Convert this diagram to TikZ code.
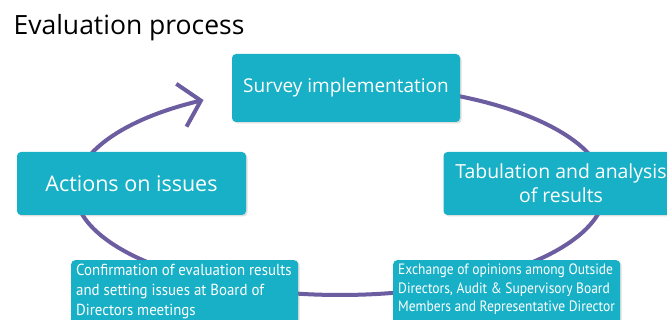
\documentclass[tikz,border=0pt]{standalone}
\usepackage{fontspec}
\setmainfont{Open Sans}
\newfontfamily\narrowfont{PT Sans}[FakeStretch=0.93]
\newfontfamily\narrowerfont{PT Sans}[FakeStretch=0.9]
\usetikzlibrary{arrows.meta,shadows}
\definecolor{boxc}{RGB}{24,176,198}
\definecolor{ringc}{RGB}{108,92,160}
\tikzset{
  box/.style={fill=boxc, rounded corners=4pt, text=white, draw=none, inner sep=0pt,
    drop shadow={opacity=0.25, shadow xshift=1.5pt, shadow yshift=-1.5pt}},
  smallbox/.style={box, anchor=north west, minimum width=227pt, minimum height=75pt},
  smalltext/.style={anchor=north west, align=left, inner sep=0pt, text=white},
  ring/.style={ringc, line width=4pt, line cap=round}
}
\begin{document}
\begin{tikzpicture}[x=1pt,y=1pt]
\useasboundingbox (0,0) rectangle (667,320);
\fill[white] (0,0) rectangle (667,320);
\node[anchor=west, font=\fontsize{26.5}{30}\selectfont] (title) at (10,292) {Evaluation process};
\coordinate (ringstart) at (340,235);
\draw[ring, -{Straight Barb[length=20pt,width=44pt]}] (ringstart)
  arc[start angle=90, end angle=-239, x radius=265, y radius=105];
\node[box, font=\fontsize{19}{24}\selectfont, minimum width=228pt, minimum height=68pt] (survey) at (346,232) {Survey implementation};
\node[box, font=\fontsize{19.4}{24}\selectfont, minimum width=235pt, minimum height=63pt, align=center] (tab) at (561,136.5) {Tabulation and analysis\\of results};
\node[box, font=\fontsize{21.5}{24}\selectfont, minimum width=229pt, minimum height=63pt] (actions) at (131.5,136.5) {Actions on issues};
\node[smallbox] (confirm) at (71,60) {};
\node[smalltext, font=\narrowfont\fontsize{16}{20}\selectfont] (confirmtext) at ([xshift=5pt,yshift=-4pt]confirm.north west) {Confirmation of evaluation results\\and setting issues at Board of\\Directors meetings};
\node[smallbox] (exchange) at (393,60) {};
\node[smalltext, font=\narrowerfont\fontsize{15}{18.5}\selectfont] (exchangetext) at ([xshift=5pt,yshift=-4pt]exchange.north west) {Exchange of opinions among Outside\\Directors, Audit \& Supervisory Board\\Members and Representative Director};
\end{tikzpicture}
\end{document}
